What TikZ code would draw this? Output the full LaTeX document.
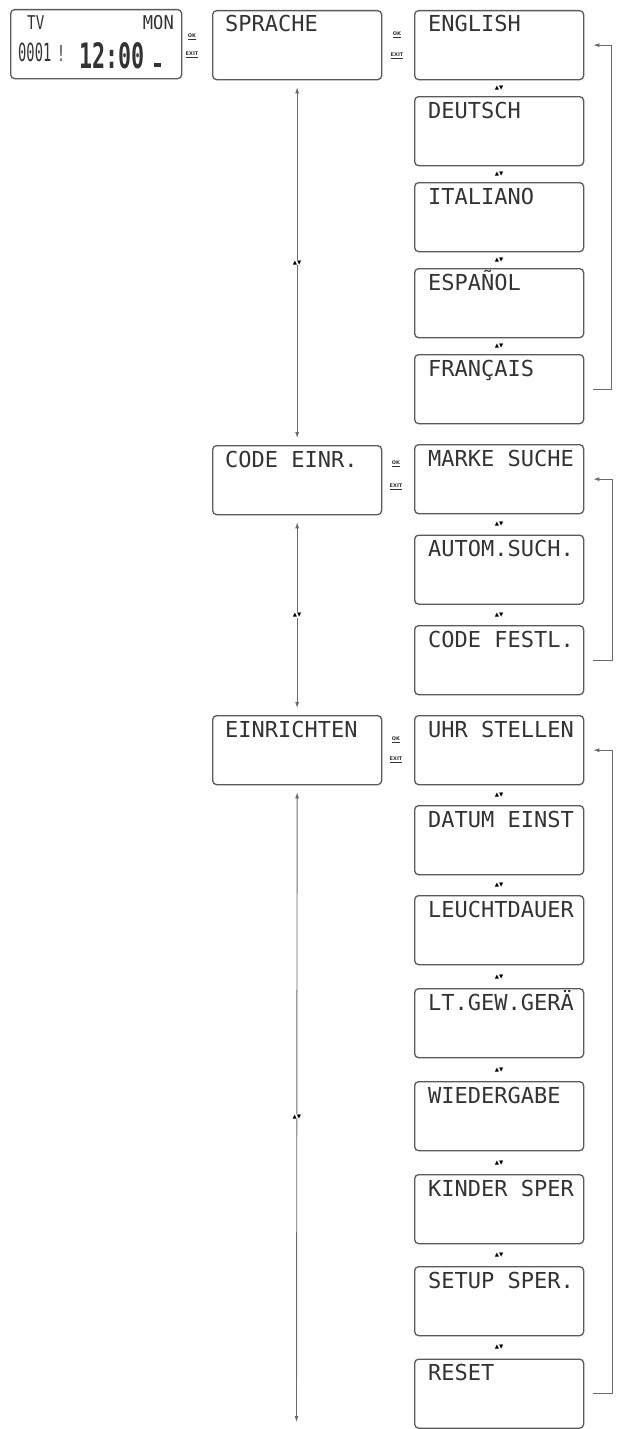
\documentclass[tikz,border=0pt]{standalone}
\usepackage{fontspec}
\usetikzlibrary{calc,arrows.meta}
\newfontfamily\lcdfont{DejaVu Sans Mono}
\newfontfamily\mysymfont{DejaVu Sans}
\definecolor{boxline}{HTML}{5A5A5A}
\definecolor{lcdtxt}{HTML}{333333}
\definecolor{conn}{HTML}{6A6A6A}
\begin{document}
\begin{tikzpicture}[x=1pt,y=-1pt,
  lcdbox/.style={draw=boxline, line width=1.3pt, rounded corners=4pt, minimum width=169pt, minimum height=69pt, inner sep=0pt, anchor=north west},
  lcdtext/.style={anchor=base west, inner sep=0pt, text=lcdtxt, font=\lcdfont\fontsize{22}{22}\selectfont},
  updown/.style={inner sep=0.6pt, fill=white, text=black, font=\mysymfont\fontsize{5.5}{5.5}\selectfont},
  nav/.style={draw=conn, line width=0.9pt, {Latex[length=6pt,width=4pt]}-{Latex[length=6pt,width=4pt]}},
  back/.style={draw=conn, line width=0.9pt, -{Latex[length=6pt,width=4pt]}},
  keylbl/.style={inner sep=0pt, text=lcdtxt, font=\mysymfont\bfseries\fontsize{5}{5}\selectfont},
]
\useasboundingbox (0,0) rectangle (620,1429);
\fill[white] (0,0) rectangle (620,1429);

% ---------- TV display ----------
\node[lcdbox, minimum width=171pt, minimum height=69pt] (tv) at (10,9) {};
\node[anchor=base west, inner sep=0pt, text=lcdtxt, font=\lcdfont\fontsize{19}{19}\selectfont] (tvlbl) at (27,30) {\scalebox{0.75}[1]{TV}};
\node[anchor=base east, inner sep=0pt, text=lcdtxt, font=\lcdfont\fontsize{19}{19}\selectfont] (monlbl) at (174,30) {\scalebox{0.9}[1]{MON}};
\node[anchor=base west, inner sep=0pt, text=lcdtxt, font=\lcdfont\fontsize{25}{25}\selectfont] (chan) at (18,62) {\scalebox{0.55}[1]{0001}};
\node[anchor=base west, inner sep=0pt, text=lcdtxt, font=\lcdfont\fontsize{22}{22}\selectfont] (sep) at (57,62) {\scalebox{0.6}[1]{!}};
\node[anchor=base west, inner sep=0pt, text=lcdtxt, font=\lcdfont\bfseries\fontsize{35}{35}\selectfont] (clock) at (79,68) {\scalebox{0.62}[1]{12:00}};
\node[fill=lcdtxt, minimum width=7pt, minimum height=4pt, inner sep=0pt] (blk) at (157,65) {};

% ---------- left column ----------
\node[lcdbox] (spr) at (212,10) {};
\node[lcdtext] at ($(spr.north west)+(13,22)$) {SPRACHE};
\node[lcdbox] (code) at (212,445) {};
\node[lcdtext] at ($(code.north west)+(13,22)$) {CODE EINR.};
\node[lcdbox] (einr) at (212,715) {};
\node[lcdtext] at ($(einr.north west)+(13,22)$) {EINRICHTEN};

% OK / EXIT keys
\node[keylbl] (k0a) at (192,37) {\underline{OK}};
\node[keylbl] (k0b) at (192,55) {\underline{EXIT}};
\node[keylbl] (k1a) at (397,35) {\underline{OK}};
\node[keylbl] (k1b) at (397,56) {\underline{EXIT}};
\node[keylbl] (k2a) at (396,464) {\underline{OK}};
\node[keylbl] (k2b) at (396,487) {\underline{EXIT}};
\node[keylbl] (k3a) at (396,740) {\underline{OK}};
\node[keylbl] (k3b) at (396,760) {\underline{EXIT}};

% left vertical navigation
\coordinate (endl) at (296.5,1422);
\draw[nav] ($(spr.south)+(0,7)$) -- node[updown]{▲▼} ($(code.north)+(0,-7)$);
\draw[nav] ($(code.south)+(0,7)$) -- node[updown]{▲▼} ($(einr.north)+(0,-7)$);
\draw[nav] ($(einr.south)+(0,7)$) -- node[updown, pos=0.515]{▲▼} (endl);

% ---------- right column: languages ----------
\node[lcdbox] (en) at (414,10) {};
\node[lcdtext] at ($(en.north west)+(14,22)$) {ENGLISH};
\node[lcdbox] (de) at (414,96) {};
\node[lcdtext] at ($(de.north west)+(14,22)$) {DEUTSCH};
\node[lcdbox] (it) at (414,182) {};
\node[lcdtext] at ($(it.north west)+(14,22)$) {ITALIANO};
\node[lcdbox] (es) at (414,268) {};
\node[lcdtext] at ($(es.north west)+(14,22)$) {ESPAÑOL};
\node[lcdbox] (fr) at (414,354) {};
\node[lcdtext] at ($(fr.north west)+(14,22)$) {FRANÇAIS};
\foreach \a/\b in {en/de,de/it,it/es,es/fr}
  \node[updown] at ($(\a.south)!0.5!(\b.north)$) {▲▼};
\coordinate (r1) at (611,0);
\draw[back] ($(fr.east)+(9,0)$) -- (fr.east -| r1) -- (en.east -| r1) -- ($(en.east)+(9,0)$);

% ---------- right column: codes ----------
\node[lcdbox] (ms) at (414,444) {};
\node[lcdtext] at ($(ms.north west)+(14,22)$) {MARKE SUCHE};
\node[lcdbox] (as) at (414,534.5) {};
\node[lcdtext] at ($(as.north west)+(14,22)$) {AUTOM.SUCH.};
\node[lcdbox] (cf) at (414,625) {};
\node[lcdtext] at ($(cf.north west)+(14,22)$) {CODE FESTL.};
\foreach \a/\b in {ms/as,as/cf}
  \node[updown] at ($(\a.south)!0.5!(\b.north)$) {▲▼};
\coordinate (r2) at (612,0);
\draw[back] ($(cf.east)+(9,0)$) -- (cf.east -| r2) -- (ms.east -| r2) -- ($(ms.east)+(9,0)$);

% ---------- right column: setup ----------
\node[lcdbox] (uhr) at (414,715) {};
\node[lcdtext] at ($(uhr.north west)+(14,22)$) {UHR STELLEN};
\node[lcdbox] (dat) at (414,805) {};
\node[lcdtext] at ($(dat.north west)+(14,22)$) {DATUM EINST};
\node[lcdbox] (leu) at (414,895) {};
\node[lcdtext] at ($(leu.north west)+(14,22)$) {LEUCHTDAUER};
\node[lcdbox] (ltg) at (414,988) {};
\node[lcdtext] at ($(ltg.north west)+(14,22)$) {LT.GEW.GERÄ};
\node[lcdbox] (wie) at (414,1081) {};
\node[lcdtext] at ($(wie.north west)+(14,22)$) {WIEDERGABE};
\node[lcdbox] (kin) at (414,1174) {};
\node[lcdtext] at ($(kin.north west)+(14,22)$) {KINDER SPER};
\node[lcdbox] (set) at (414,1266) {};
\node[lcdtext] at ($(set.north west)+(14,22)$) {SETUP SPER.};
\node[lcdbox] (res) at (414,1358.5) {};
\node[lcdtext] at ($(res.north west)+(14,22)$) {RESET};
\foreach \a/\b in {uhr/dat,dat/leu,leu/ltg,ltg/wie,wie/kin,kin/set,set/res}
  \node[updown] at ($(\a.south)!0.5!(\b.north)$) {▲▼};
\coordinate (r3) at (612,0);
\draw[back] ($(res.east)+(9,0)$) -- (res.east -| r3) -- (uhr.east -| r3) -- ($(uhr.east)+(9,0)$);
\end{tikzpicture}
\end{document}
